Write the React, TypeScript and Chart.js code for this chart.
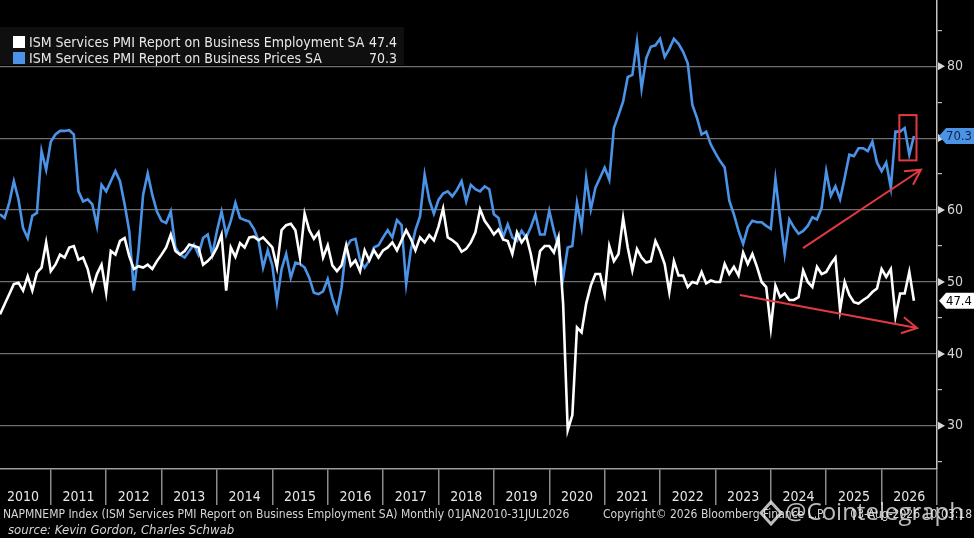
import React, { useEffect, useRef } from 'react';
import { Chart, registerables } from 'chart.js';

Chart.register(...registerables);

// ---------- data ----------
const START_YEAR = 2010; // first observation: Jan 2010 (month-end dated)
const YEAR_LABELS = ['2010', '2011', '2012', '2013', '2014', '2015', '2016', '2017', '2018', '2019', '2020', '2021', '2022', '2023', '2024', '2025', '2026'];
const Y_TICKS = [25, 30, 35, 40, 45, 50, 55, 60, 65, 70, 75, 80, 85];
const SERIES_NAMES = ['ISM Services PMI Report on Business Employment SA', 'ISM Services PMI Report on Business Prices SA'];

const EMPLOYMENT = [
  45.5, 46.9, 48.3, 49.7, 49.9, 48.8, 50.8, 48.8, 51.3, 52,
  55.5, 51.5, 52.4, 53.8, 53.4, 54.8, 55, 53.1, 53.4, 51.8,
  49, 51.1, 52.4, 48.5, 54.3, 53.8, 55.7, 56.1, 53.6, 51.8,
  52.2, 52, 52.4, 51.8, 52.9, 53.8, 54.8, 56.6, 54.3, 53.8,
  54.3, 55.2, 55, 54.8, 52.4, 52.9, 53.6, 54.8, 56.6, 48.8,
  54.8, 53.5, 55.4, 54.8, 56.2, 56.3, 55.8, 56.2, 55.5, 54.8,
  52, 57.2, 57.9, 58.1, 57.2, 53.4, 59.5, 57.2, 56, 56.9,
  53.4, 55.1, 52.3, 51.5, 52.3, 55.1, 52.3, 53, 51.5, 54.4,
  53, 54.4, 53.4, 54.4, 54.8, 55.5, 54.4, 55.8, 57.2, 56,
  54.4, 56.2, 55.5, 56.5, 55.8, 57.7, 60.2, 56.2, 55.8, 55.3,
  54.2, 54.6, 55.5, 56.9, 60.1, 58.5, 57.6, 56.6, 57.3, 55.9,
  55.7, 53.9, 56.9, 55.5, 56.4, 53.9, 50.4, 54.3, 55, 55,
  54.1, 56.2, 47, 29.4, 31.5, 43.7, 43, 47, 49.5, 51.1,
  51.1, 48.3, 55, 52.9, 53.9, 58.9, 54.8, 51.6, 54.6, 53.4,
  52.7, 52.9, 55.7, 54.3, 52.5, 48.6, 52.9, 50.9, 50.9, 49.3,
  50, 49.8, 51.4, 49.8, 50.2, 50, 50, 52.5, 51.1, 52.1,
  50.9, 54.1, 52.5, 53.9, 52.1, 50, 49.3, 43.6, 49.5, 47.9,
  48.4, 47.5, 47.5, 47.9, 51.6, 50, 49.3, 52.1, 51.1, 51.4,
  52.5, 53.4, 46.1, 50, 48.2, 47.2, 47, 47.5, 47.9, 48.6,
  49.1, 51.8, 50.7, 51.8, 45.2, 48.4, 48.4, 51.4, 47.4,
];

const PRICES = [
  59.4, 58.9, 61, 64, 61.5, 57.5, 56.1, 59.2, 59.6, 68.2,
  65.6, 69.5, 70.5, 71, 71, 71.1, 70.5, 62.6, 61.2, 61.5,
  60.8, 57.8, 63.5, 62.6, 64, 65.4, 64, 60.8, 57.1, 48.8,
  54.3, 62.1, 65.1, 62.1, 59.8, 58.5, 58.2, 59.8, 54.8, 53.8,
  53.4, 54.3, 55.2, 53.8, 56.1, 56.6, 53.8, 57.1, 59.8, 56.6,
  58.5, 61, 58.9, 58.6, 58.4, 57.4, 55.8, 52, 54.4, 52.3,
  47.3, 51.8, 53.9, 50.6, 52.7, 52.5, 52, 50.6, 48.5, 48.3,
  48.7, 50.4, 47.8, 45.9, 49.2, 54.8, 55.8, 56, 53, 52,
  53, 54.8, 55.1, 56.2, 57.2, 56.2, 58.6, 57.9, 49.7, 54.4,
  57.2, 59.1, 64.9, 61.4, 59.5, 61.4, 62.3, 62.6, 61.9, 62.8,
  64, 61.2, 63.5, 62.9, 62.6, 63.3, 62.9, 59.4, 58.9, 56.2,
  58, 56.2, 55.7, 57.1, 56.2, 57.6, 59.4, 56.6, 56.6, 59.9,
  57.1, 54.8, 50.6, 54.8, 55, 61, 57.6, 64.5, 60.1, 63.1,
  64.5, 65.9, 64.2, 71.4, 73.2, 75.1, 78.5, 78.8, 83.4, 76.9,
  81.1, 82.7, 82.9, 83.8, 81.3, 82.4, 83.8, 83.1, 82, 80.4,
  74.6, 72.8, 70.5, 70.9, 69.1, 67.9, 66.8, 65.9, 61.3, 59.4,
  57.1, 55.3, 57.6, 58.5, 58.3, 58.3, 57.8, 57.4, 64.3, 59,
  53.9, 58.7, 57.6, 56.7, 57.1, 57.8, 59, 58.7, 60.3, 65.4,
  62, 63.3, 61.5, 64.5, 67.7, 67.5, 68.6, 68.6, 68.2, 69.5,
  66.6, 65.4, 66.6, 63.1, 70.9, 70.9, 71.4, 67.7, 70.3,
];

// text
const FOOTER_LEFT = 'NAPMNEMP Index (ISM Services PMI Report on Business Employment SA) Monthly 01JAN2010-31JUL2026';
const FOOTER_RIGHT = 'Copyright\u00A9 2026 Bloomberg Finance L.P.';
const FOOTER_TIME = '03-Aug-2026 10:03:18';
const SOURCE = 'source: Kevin Gordon, Charles Schwab';
const WATERMARK = '@Cointelegraph';

// red annotations (in data coordinates: fractional year, index value)
const HIGHLIGHT_BOX = { x0: 2026.32, x1: 2026.63, y0: 73.2, y1: 66.9 };
const TREND_ARROWS = [
  { x0: 2024.58, y0: 54.7, x1: 2026.71, y1: 65.6 },
  { x0: 2023.44, y0: 48.2, x1: 2026.64, y1: 43.6 },
];

// ---------- style ----------
const WHITE = '#ffffff';
const BLUE = '#4a93e6';
const RED = '#e23a40';
const NARROW = '"Liberation Sans Narrow", "DejaVu Sans Condensed", "Arial Narrow", sans-serif';

const toPoints = (arr: number[]) => arr.map((v, i) => ({ x: START_YEAR + (i + 1) / 12, y: v }));

const overlayPlugin = {
  id: 'overlay',
  beforeDraw(chart: any) {
    const { ctx, width, height } = chart;
    ctx.save();
    ctx.fillStyle = '#000';
    ctx.fillRect(0, 0, width, height);
    ctx.restore();
  },
  afterDatasetsDraw(chart: any) {
    const { ctx } = chart;
    const xs = chart.scales.x;
    const ys = chart.scales.y;
    const px = (v: number) => xs.getPixelForValue(v);
    const py = (v: number) => ys.getPixelForValue(v);
    ctx.save();
    ctx.strokeStyle = RED;
    ctx.lineWidth = 2;
    const bx0 = px(HIGHLIGHT_BOX.x0), bx1 = px(HIGHLIGHT_BOX.x1);
    const by0 = py(HIGHLIGHT_BOX.y0), by1 = py(HIGHLIGHT_BOX.y1);
    ctx.strokeRect(bx0, by0, bx1 - bx0, by1 - by0);
    for (const a of TREND_ARROWS) {
      const x0 = px(a.x0), y0 = py(a.y0), x1 = px(a.x1), y1 = py(a.y1);
      ctx.beginPath();
      ctx.moveTo(x0, y0);
      ctx.lineTo(x1, y1);
      const ang = Math.atan2(y1 - y0, x1 - x0);
      const L = 17, spread = 0.5;
      ctx.moveTo(x1 - L * Math.cos(ang - spread), y1 - L * Math.sin(ang - spread));
      ctx.lineTo(x1, y1);
      ctx.lineTo(x1 - L * Math.cos(ang + spread), y1 - L * Math.sin(ang + spread));
      ctx.stroke();
    }
    ctx.restore();
  },
  afterDraw(chart: any) {
    const { ctx } = chart;
    const ys = chart.scales.y;
    const axisX = chart.chartArea.right;
    ctx.save();
    ctx.fillStyle = '#d8d8d8';
    for (const v of Y_TICKS) {
      if (v % 10 !== 0) continue;
      const y = ys.getPixelForValue(v);
      ctx.beginPath();
      ctx.moveTo(axisX + 1, y - 4);
      ctx.lineTo(axisX + 8, y);
      ctx.lineTo(axisX + 1, y + 4);
      ctx.closePath();
      ctx.fill();
    }
    const badges = [
      { v: PRICES[PRICES.length - 1], bg: BLUE, fg: '#0d2443' },
      { v: EMPLOYMENT[EMPLOYMENT.length - 1], bg: '#ffffff', fg: '#000000' },
    ];
    for (const b of badges) {
      const y = ys.getPixelForValue(b.v);
      const h = 8;
      ctx.fillStyle = b.bg;
      ctx.beginPath();
      ctx.moveTo(axisX + 2, y);
      ctx.lineTo(axisX + 9, y - h);
      ctx.lineTo(chart.width, y - h);
      ctx.lineTo(chart.width, y + h);
      ctx.lineTo(axisX + 9, y + h);
      ctx.closePath();
      ctx.fill();
      ctx.fillStyle = b.fg;
      ctx.font = `13px ${NARROW}`;
      ctx.textAlign = 'right';
      ctx.textBaseline = 'middle';
      ctx.fillText(b.v.toFixed(1), chart.width - 2, y + 1);
    }
    // legend
    ctx.fillStyle = '#0f0f0f';
    ctx.fillRect(0, 27, 404, 38);
    const rows = [
      { name: SERIES_NAMES[0], color: WHITE, v: EMPLOYMENT[EMPLOYMENT.length - 1], y: 42 },
      { name: SERIES_NAMES[1], color: BLUE, v: PRICES[PRICES.length - 1], y: 58 },
    ];
    ctx.font = `14px ${NARROW}`;
    ctx.textBaseline = 'middle';
    for (const r of rows) {
      ctx.fillStyle = r.color;
      ctx.fillRect(13, r.y - 6, 12, 12);
      ctx.fillStyle = '#e8e8e8';
      ctx.textAlign = 'left';
      ctx.fillText(r.name, 29, r.y + 1);
      ctx.textAlign = 'right';
      ctx.fillText(r.v.toFixed(1), 397, r.y + 1);
    }
    // footer
    ctx.fillStyle = '#d6d6d6';
    ctx.textAlign = 'left';
    ctx.font = `12px ${NARROW}`;
    ctx.fillText(FOOTER_LEFT, 3, 515);
    ctx.fillText(FOOTER_RIGHT, 603, 515);
    ctx.textAlign = 'right';
    ctx.fillText(FOOTER_TIME, 972, 515);
    ctx.textAlign = 'left';
    ctx.font = `italic 13px ${NARROW}`;
    ctx.fillText(SOURCE, 8, 531);
    // watermark
    ctx.fillStyle = 'rgba(235,235,235,0.8)';
    ctx.font = '24px "Open Sans", "Noto Sans", sans-serif';
    ctx.textAlign = 'left';
    ctx.fillText(WATERMARK, 785, 513);
    ctx.strokeStyle = 'rgba(235,235,235,0.8)';
    ctx.lineWidth = 3;
    ctx.beginPath();
    ctx.moveTo(771, 502);
    ctx.lineTo(781, 513);
    ctx.lineTo(771, 524);
    ctx.lineTo(761, 513);
    ctx.closePath();
    ctx.stroke();
    ctx.restore();
  },
};

export default function App() {
  const ref = useRef<HTMLCanvasElement | null>(null);

  useEffect(() => {
    if (!ref.current) return;
    const chart = new Chart(ref.current, {
      type: 'line',
      data: {
        datasets: [
          {
            label: SERIES_NAMES[0],
            data: toPoints(EMPLOYMENT),
            borderColor: WHITE,
            borderWidth: 2.6,
            pointRadius: 0,
            tension: 0,
          },
          {
            label: SERIES_NAMES[1],
            data: toPoints(PRICES),
            borderColor: BLUE,
            borderWidth: 2.6,
            pointRadius: 0,
            tension: 0,
          },
        ],
      },
      options: {
        animation: false,
        responsive: false,
        maintainAspectRatio: false,
        layout: { padding: 0 },
        plugins: { legend: { display: false }, tooltip: { enabled: false } },
        scales: {
          x: {
            type: 'linear',
            position: 'bottom',
            min: START_YEAR + 1 / 12,
            max: START_YEAR + YEAR_LABELS.length,
            afterBuildTicks: (s: any) => {
              const t: any[] = [];
              YEAR_LABELS.forEach((_, i) => {
                t.push({ value: START_YEAR + i + 0.5 });
                t.push({ value: START_YEAR + i + 1 });
              });
              s.ticks = t;
            },
            afterFit: (s: any) => {
              s.height = 69;
              s.paddingLeft = 0;
              s.paddingRight = 0;
              s.paddingTop = 0;
              s.paddingBottom = 0;
            },
            ticks: {
              autoSkip: false,
              maxRotation: 0,
              color: '#e6e6e6',
              padding: -16,
              font: { family: NARROW, size: 14 },
              callback: (v: any) => (Number.isInteger(v) ? '' : YEAR_LABELS[Math.floor(v) - START_YEAR]),
            },
            grid: {
              drawOnChartArea: false,
              tickLength: 36,
              lineWidth: 1.5,
              color: (c: any) => (c.tick && Number.isInteger(c.tick.value) ? '#8c8c8c' : 'rgba(0,0,0,0)'),
              tickColor: (c: any) => (c.tick && Number.isInteger(c.tick.value) ? '#8c8c8c' : 'rgba(0,0,0,0)'),
            },
            border: { color: '#9c9c9c', width: 1.5 },
          },
          y: {
            position: 'right',
            min: 24,
            max: 89.2,
            afterBuildTicks: (s: any) => {
              s.ticks = Y_TICKS.map((v) => ({ value: v }));
            },
            afterFit: (s: any) => {
              s.width = 37;
              s.paddingLeft = 0;
              s.paddingRight = 0;
              s.paddingTop = 0;
              s.paddingBottom = 0;
            },
            ticks: {
              color: '#d4d4d4',
              padding: 5,
              font: { family: NARROW, size: 14 },
              callback: (v: any) => (v % 10 === 0 ? String(v) : ''),
            },
            grid: {
              tickLength: 5,
              lineWidth: 1.2,
              color: (c: any) => (c.tick && c.tick.value % 10 === 0 ? '#6f6f6f' : 'rgba(0,0,0,0)'),
              tickColor: (c: any) => (c.tick && c.tick.value % 10 !== 0 ? '#bdbdbd' : 'rgba(0,0,0,0)'),
            },
            border: { color: '#c4c4c4', width: 1.5 },
          },
        },
      },
      plugins: [overlayPlugin],
    } as any);
    return () => chart.destroy();
  }, []);

  return (
    <div style={{ position: 'fixed', left: 0, top: 0, width: 974, height: 538, background: '#000' }}>
      <canvas ref={ref} width={974} height={538} style={{ width: 974, height: 538, display: 'block' }} />
    </div>
  );
}
